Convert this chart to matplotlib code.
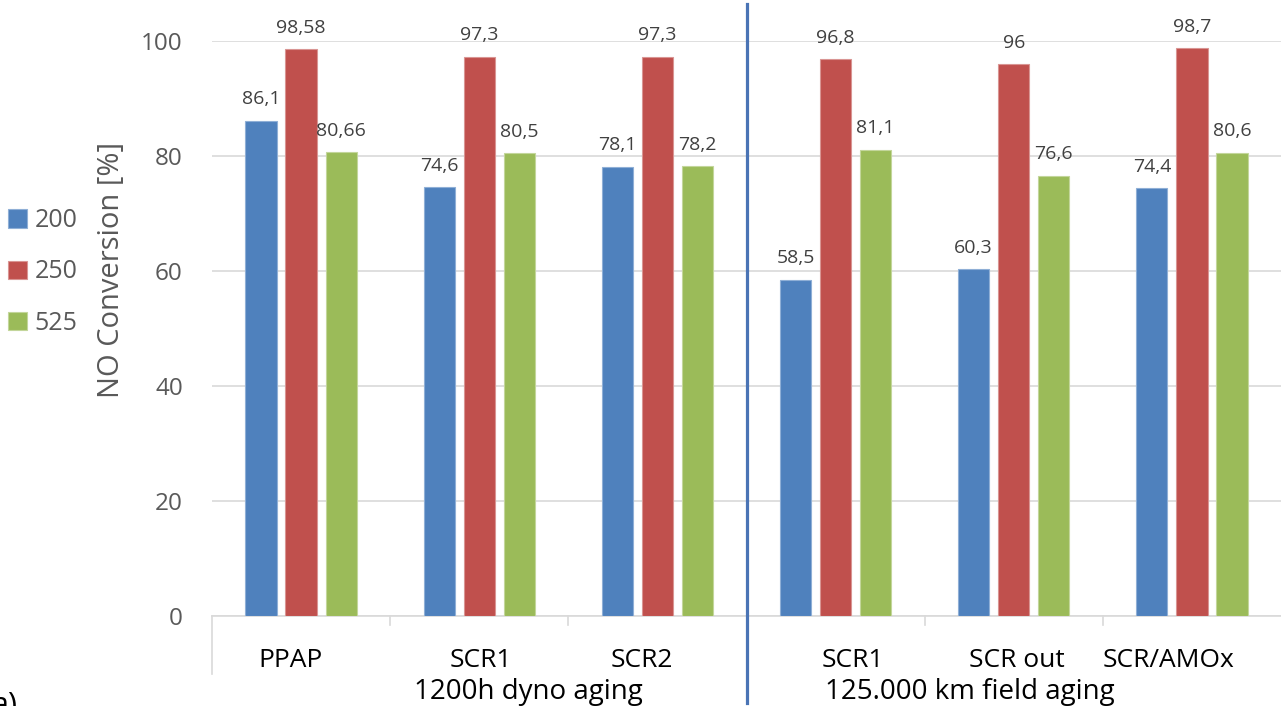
import numpy as np
import matplotlib.pyplot as plt
import matplotlib.transforms as mtransforms
from matplotlib.lines import Line2D

plt.rcParams['font.family'] = ['Open Sans', 'DejaVu Sans']

categories = ['PPAP', 'SCR1', 'SCR2', 'SCR1', 'SCR out', 'SCR/AMOx']
groups = ['1200h dyno aging', '125.000 km field aging']
series = ['200', '250', '525']
conv_200 = [86.1, 74.6, 78.1, 58.5, 60.3, 74.4]
conv_250 = [98.58, 97.3, 97.3, 96.8, 96.0, 98.7]
conv_525 = [80.66, 80.5, 78.2, 81.1, 76.6, 80.6]
colors = ['#4F81BD', '#C0504D', '#9BBB59']
edge_colors = ['#8FAFD6', '#D99593', '#C3D69B']

# label positions as they sit in the original (not exactly centred)
cat_label_x = [-0.057, 1.007, 1.911, 3.098, 4.018, 4.871]
group_label_x = [1.276, 3.754]

W, H = 1281, 706
fig = plt.figure(figsize=(W / 100, H / 100), dpi=100)
ax = fig.add_axes([212 / W, 1 - 616 / H, 1 - 212 / W, (616 - 41) / H])

x = np.arange(len(categories))
handles = []
for i, (vals, col, ec, lab) in enumerate(zip([conv_200, conv_250, conv_525], colors, edge_colors, series)):
    bars = ax.bar(x + (i - 1) * 0.225, vals, width=0.175, color=col, edgecolor=ec,
                  linewidth=0.8, label=lab, zorder=3)
    ax.bar_label(bars, labels=[f'{v:g}'.replace('.', ',') for v in vals],
                 padding=9, fontsize=14, color='#404040')
    handles.append(bars)

ax.set_xlim(-0.5, 5.5)
ax.set_ylim(0, 100)
ax.set_yticks(range(0, 101, 20))
ax.set_xticks([])
ax.grid(axis='y', color='#D9D9D9', linewidth=1.2, zorder=0)
ax.set_axisbelow(True)
for s in ['top', 'right', 'left']:
    ax.spines[s].set_visible(False)
ax.spines['bottom'].set_color('#D9D9D9')
ax.spines['bottom'].set_linewidth(1.2)
ax.tick_params(axis='y', length=0, pad=21, labelsize=17.5, labelcolor='#595959')

# category separators below the axis
xt = ax.get_xaxis_transform()
for b in [0.5, 1.5, 3.5, 4.5]:
    ax.plot([b, b], [0, -0.016], color='#D9D9D9', lw=1.2, transform=xt, clip_on=False)
ax.plot([-0.5, -0.5], [0, -0.1], color='#D9D9D9', lw=1.2, transform=xt, clip_on=False)

for xl, lab in zip(cat_label_x, categories):
    ax.text(xl, 1 - (667 - 41) / 575, lab, transform=xt, ha='center', va='baseline',
            fontsize=19, color='#000000')
for xl, lab in zip(group_label_x, groups):
    ax.text(xl, 1 - (699 - 41) / 575, lab, transform=xt, ha='center', va='baseline',
            fontsize=20, color='#000000')

# divider between the two aging groups
bt = mtransforms.blended_transform_factory(ax.transData, fig.transFigure)
fig.add_artist(Line2D([2.5, 2.5], [1 - 703 / H, 1 - 4 / H], color='#4A74B5', lw=2.3, transform=bt))

fig.text(112 / W, 1 - 270 / H, 'NO Conversion [%]', rotation=90, fontsize=21,
         color='#595959', ha='center', va='center')

fig.legend(handles=handles, labels=series, loc='center left', bbox_to_anchor=(8 / W, 1 - 272 / H),
           frameon=False, fontsize=18, handlelength=0.75, handleheight=0.75, handletextpad=0.3,
           labelspacing=1.05, borderpad=0, borderaxespad=0, labelcolor='#595959')

fig.text(-8 / W, -8 / H, 'a)', fontsize=22, va='baseline', ha='left')

fig.savefig('out.png', dpi=100)
